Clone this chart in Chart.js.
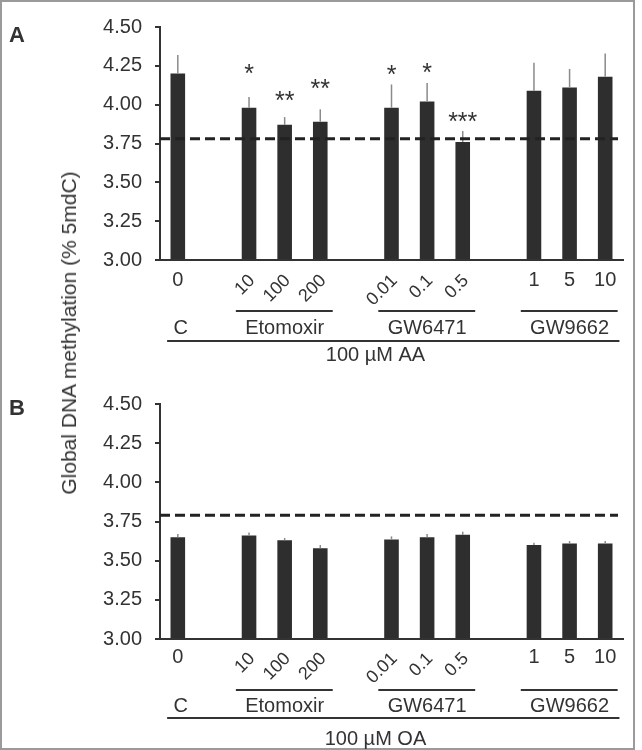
<!DOCTYPE html>
<html>
<head>
<meta charset="utf-8">
<script src="https://cdn.jsdelivr.net/npm/chart.js@4.4.1/dist/chart.umd.min.js"></script>
<style>
  body { margin: 0; background: #fff; font-family: "Liberation Sans", Arial, sans-serif; }
  #frame { position: absolute; left: 0; top: 0; width: 631px; height: 746px; border: 2px solid #9a9a9a; }
  canvas { position: absolute; left: 0; }
  #chartA { top: 0; }
  #chartB { top: 375px; }
  .panel { position: absolute; left: 9px; font-weight: bold; font-size: 22px; line-height: 22px; color: #333; }
  #yTitle { position: absolute; left: 69px; top: 333px; transform: translate(-50%, -50%) rotate(-90deg);
            white-space: nowrap; font-size: 21px; color: #333; }
</style>
</head>
<body>
<div id="frame"></div>
<canvas id="chartA" width="634" height="375"></canvas>
<canvas id="chartB" width="634" height="375"></canvas>
<div class="panel" style="top:24px">A</div>
<div class="panel" style="top:397px">B</div>
<div id="yTitle">Global DNA methylation (% 5mdC)</div>

<script>
// categories: empty slots are the gaps between groups
const doseLabels = ['0', '', '10', '100', '200', '', '0.01', '0.1', '0.5', '', '1', '5', '10'];
const groupNames = ['C', 'Etomoxir', 'GW6471', 'GW9662'];
const groupFirst = [0, 2, 6, 10];
const groupLast = [0, 4, 8, 12];
const slantedGroups = [1, 2]; // dose labels of these groups are drawn at 45 degrees

// panel A: 100 uM AA
const aaValues = [4.20, null, 3.98, 3.87, 3.89, null, 3.98, 4.02, 3.76, null, 4.09, 4.11, 4.18];
const aaErrors = [0.12, null, 0.07, 0.05, 0.08, null, 0.15, 0.12, 0.07, null, 0.18, 0.12, 0.15];
const aaStars = ['', '', '*', '**', '**', '', '*', '*', '***', '', '', '', ''];
const aaStarLevels = [null, null, 4.235, 4.06, 4.14, null, 4.23, 4.24, 3.93, null, null, null, null];
const aaReference = 3.78;

// panel B: 100 uM OA
const oaValues = [3.65, null, 3.66, 3.63, 3.58, null, 3.635, 3.65, 3.665, null, 3.60, 3.61, 3.61];
const oaErrors = [0.02, null, 0.02, 0.015, 0.02, null, 0.02, 0.02, 0.02, null, 0.015, 0.015, 0.015];
const oaReference = 3.79;

const yMin = 3.0, yMax = 4.5, yStep = 0.25;

const FONT = '"Liberation Sans", Arial, sans-serif';
const INK = '#333';

// draws error bars, reference line, stars and the grouped x labels
const extras = {
    id: 'extras',
    afterDatasetsDraw(chart, args, o) {
        const {ctx, chartArea: area, scales: {x, y}} = chart;
        ctx.save();

        // error bars (upper only)
        ctx.strokeStyle = '#8a8a8a';
        ctx.lineWidth = 1.5;
        o.values.forEach((v, i) => {
            if (v == null) return;
            const px = x.getPixelForValue(i);
            ctx.beginPath();
            ctx.moveTo(px, y.getPixelForValue(v));
            ctx.lineTo(px, y.getPixelForValue(v + o.errors[i]));
            ctx.stroke();
        });

        // dashed reference line
        const ry = y.getPixelForValue(o.reference);
        ctx.strokeStyle = '#222';
        ctx.lineWidth = 3;
        ctx.setLineDash([10, 5]);
        ctx.beginPath();
        ctx.moveTo(area.left, ry);
        ctx.lineTo(area.right - 5, ry);
        ctx.stroke();
        ctx.setLineDash([]);

        // significance stars
        ctx.fillStyle = INK;
        ctx.font = '25px ' + FONT;
        ctx.textAlign = 'center';
        ctx.textBaseline = 'alphabetic';
        o.stars.forEach((s, i) => {
            if (!s) return;
            ctx.fillText(s, x.getPixelForValue(i), y.getPixelForValue(o.starLevels[i]) + 14);
        });

        // dose labels
        const base = area.bottom;
        groupNames.forEach((name, g) => {
            for (let i = groupFirst[g]; i <= groupLast[g]; i++) {
                const px = x.getPixelForValue(i);
                if (slantedGroups.includes(g)) {
                    ctx.save();
                    ctx.font = '18px ' + FONT;
                    ctx.translate(px + 3, base + o.gap.slant);
                    ctx.rotate(-Math.PI / 4);
                    ctx.textAlign = 'right';
                    ctx.textBaseline = 'middle';
                    ctx.fillText(doseLabels[i], 0, 0);
                    ctx.restore();
                } else {
                    ctx.font = '20px ' + FONT;
                    ctx.textAlign = 'center';
                    ctx.textBaseline = 'middle';
                    ctx.fillText(doseLabels[i], px, base + o.gap.dose);
                }
            }
            // group underline and name
            ctx.strokeStyle = INK;
            ctx.lineWidth = 2;
            if (groupLast[g] > groupFirst[g]) {
                ctx.beginPath();
                ctx.moveTo(x.getPixelForValue(groupFirst[g] - 0.37), base + o.gap.line);
                ctx.lineTo(x.getPixelForValue(groupLast[g] + 0.35), base + o.gap.line);
                ctx.stroke();
            }
            ctx.font = '20px ' + FONT;
            ctx.textAlign = 'center';
            ctx.textBaseline = 'middle';
            const mid = (groupFirst[g] + groupLast[g]) / 2;
            ctx.fillText(name, x.getPixelForValue(mid) + (g === 0 ? 3 : 0), base + o.gap.name);
        });

        // overall treatment line and label
        ctx.beginPath();
        ctx.moveTo(x.getPixelForValue(-0.3), base + o.gap.all);
        ctx.lineTo(x.getPixelForValue(12.4), base + o.gap.all);
        ctx.stroke();
        ctx.fillText(o.treatment, x.getPixelForValue(5.55), base + o.gap.treat);
        ctx.restore();
    }
};

function makeChart(id, values, errors, stars, starLevels, reference, treatment, top, bottom, gap) {
    const ctx = document.getElementById(id).getContext('2d');
    return new Chart(ctx, {
        type: 'bar',
        data: {
            labels: doseLabels,
            datasets: [{
                data: values,
                base: yMin,
                backgroundColor: '#2e2e2e',
                barPercentage: 0.41,
                categoryPercentage: 1
            }]
        },
        options: {
            responsive: false,
            animation: false,
            layout: { padding: { left: 0, top: top, right: 11, bottom: 0 } },
            scales: {
                x: {
                    grid: { display: false },
                    border: { display: true, color: INK, width: 2 },
                    ticks: { display: false },
                    afterFit: s => { s.height = 375 - bottom; }
                },
                y: {
                    min: yMin,
                    max: yMax,
                    grid: { drawOnChartArea: false, drawTicks: true, tickLength: 5, color: INK, lineWidth: 2 },
                    border: { display: true, color: INK, width: 2 },
                    ticks: {
                        stepSize: yStep,
                        padding: 13,
                        color: INK,
                        font: { family: FONT, size: 20 },
                        callback: v => v.toFixed(2)
                    },
                    afterFit: s => { s.width = 160; }
                }
            },
            plugins: {
                legend: { display: false },
                tooltip: { enabled: false },
                extras: {
                    values: values, errors: errors, stars: stars, starLevels: starLevels,
                    reference: reference, treatment: treatment, gap: gap
                }
            }
        },
        plugins: [extras]
    });
}

makeChart('chartA', aaValues, aaErrors, aaStars, aaStarLevels, aaReference, '100 \u00b5M AA', 27, 260,
    { dose: 20, slant: 18, line: 51, name: 68, all: 81, treat: 95 });
makeChart('chartB', oaValues, oaErrors, [], [], oaReference, '100 \u00b5M OA', 29, 264,
    { dose: 18, slant: 17, line: 51, name: 67, all: 79, treat: 100 });
</script>
</body>
</html>
